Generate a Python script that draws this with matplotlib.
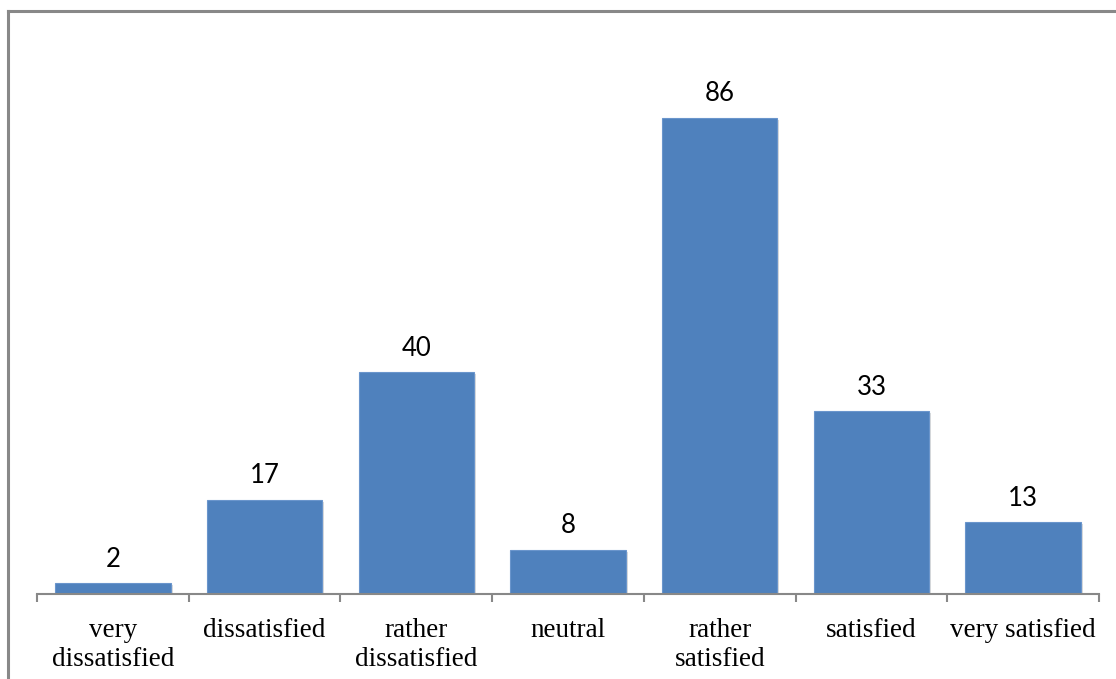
import matplotlib
matplotlib.use("Agg")
import matplotlib.pyplot as plt
from matplotlib.lines import Line2D
import matplotlib.patheffects as pe
import numpy as np

categories = ["very\ndissatisfied", "dissatisfied", "rather\ndissatisfied", "neutral",
              "rather\nsatisfied", "satisfied", "very satisfied"]
values = [2, 17, 40, 8, 86, 33, 13]

fig = plt.figure(figsize=(11.16, 6.79), dpi=100)
ax = fig.add_axes([37/1116, 85/679, (1099-37)/1116, (594-40)/679])

x = np.arange(len(categories))
bars = ax.bar(x, values, width=0.76, color="#4F81BD", edgecolor="#6A95CC", linewidth=0.8,
              path_effects=[pe.SimplePatchShadow(offset=(1.5, -1.5), shadow_rgbFace="#999999", alpha=0.35), pe.Normal()])

for xi, v in zip(x, values):
    ax.text(xi, v + 2.05, str(v), ha="center", va="bottom", fontsize=18.5,
            family=["Lato", "DejaVu Sans"], color="black")

ax.set_xlim(-0.5, len(categories) - 0.5)
ax.set_ylim(0, 100)
ax.set_yticks([])
for s in ["top", "right", "left"]:
    ax.spines[s].set_visible(False)
ax.spines["bottom"].set_color("#888888")
ax.spines["bottom"].set_linewidth(1.5)

ax.set_xticks(np.arange(len(categories) + 1) - 0.5)
ax.set_xticklabels([])
ax.tick_params(axis="x", which="major", length=6, width=1.5, color="#888888", direction="out")
ax.set_xticks(x, minor=True)
ax.set_xticklabels(categories, minor=True, fontsize=19.5, family="Liberation Serif", linespacing=1.22)
ax.tick_params(axis="x", which="minor", length=0, pad=17)

fig.add_artist(Line2D([8/1116, 8/1116], [0, 1 - 11/679], color="#888888", linewidth=2.2, transform=fig.transFigure))
fig.add_artist(Line2D([8/1116, 1], [1 - 11/679, 1 - 11/679], color="#888888", linewidth=2.2, transform=fig.transFigure))

fig.savefig("out.png", dpi=100)
